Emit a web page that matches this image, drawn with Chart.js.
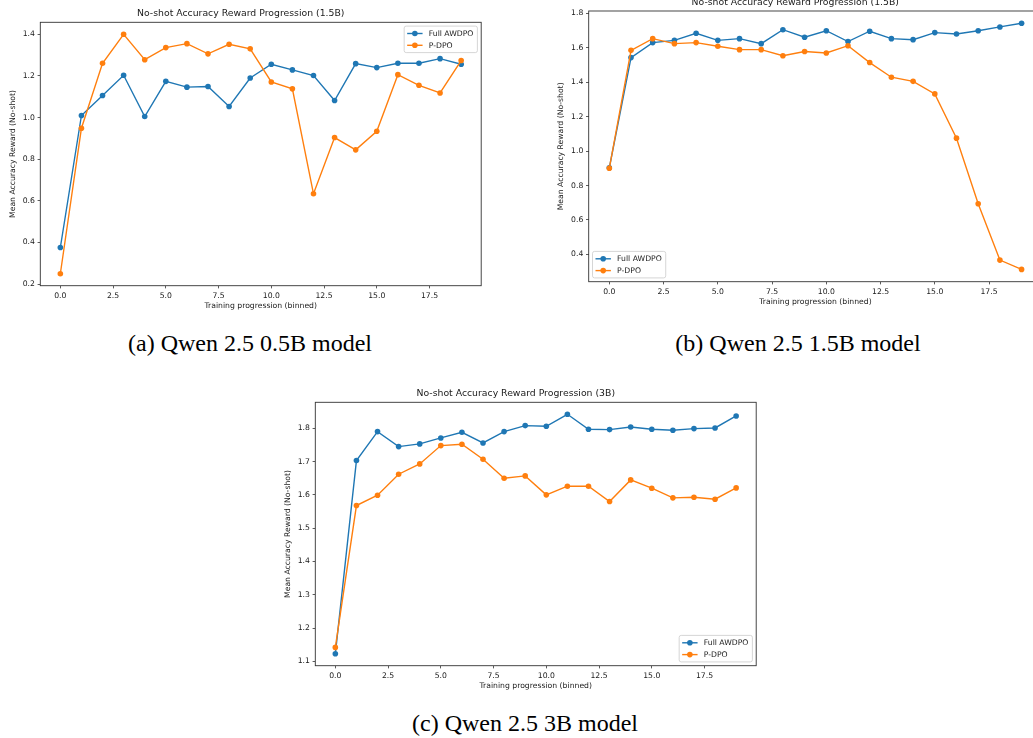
<!DOCTYPE html>
<html>
<head>
<meta charset="utf-8">
<title>No-shot Accuracy Reward Progression</title>
<script src="https://cdn.jsdelivr.net/npm/chart.js@4.4.1/dist/chart.umd.min.js"></script>
<style>
  html, body { margin: 0; padding: 0; background: #fff; }
  body { width: 1033px; height: 738px; position: relative; overflow: hidden; }
  canvas { position: absolute; }
  .caption {
    position: absolute;
    font-family: "Liberation Serif", "Times New Roman", serif;
    font-size: 24px;
    line-height: 24px;
    color: #000;
    white-space: nowrap;
    transform: translateX(-50%);
  }
</style>
</head>
<body>
<canvas id="chart05" width="484" height="312" style="left:0px;top:0px"></canvas>
<canvas id="chart15" width="497" height="319" style="left:548px;top:-11px"></canvas>
<canvas id="chart3" width="484" height="312" style="left:275px;top:380px"></canvas>
<div class="caption" style="left:250px;top:331px">(a) Qwen 2.5 0.5B model</div>
<div class="caption" style="left:798px;top:331px">(b) Qwen 2.5 1.5B model</div>
<div class="caption" style="left:525px;top:711px">(c) Qwen 2.5 3B model</div>

<script>
const bins = [0, 1, 2, 3, 4, 5, 6, 7, 8, 9, 10, 11, 12, 13, 14, 15, 16, 17, 18, 19];
const xTicks = [0, 2.5, 5, 7.5, 10, 12.5, 15, 17.5];

// (a) Qwen 2.5 0.5B
const awdpo05 = [0.376, 1.010, 1.106, 1.203, 1.005, 1.174, 1.146, 1.149, 1.053, 1.190,
                 1.256, 1.229, 1.202, 1.082, 1.259, 1.240, 1.261, 1.261, 1.283, 1.256];
const pdpo05 = [0.250, 0.949, 1.261, 1.400, 1.278, 1.336, 1.355, 1.306, 1.352, 1.330,
                1.171, 1.138, 0.634, 0.904, 0.845, 0.934, 1.206, 1.155, 1.118, 1.274];
const yTicks05 = [0.2, 0.4, 0.6, 0.8, 1.0, 1.2, 1.4];

// (b) Qwen 2.5 1.5B
const awdpo15 = [0.903, 1.543, 1.630, 1.643, 1.684, 1.643, 1.653, 1.624, 1.705, 1.661,
                 1.699, 1.636, 1.696, 1.653, 1.647, 1.688, 1.680, 1.699, 1.721, 1.742];
const pdpo15 = [0.900, 1.585, 1.653, 1.624, 1.630, 1.609, 1.589, 1.589, 1.554, 1.578,
                1.570, 1.612, 1.514, 1.429, 1.405, 1.332, 1.075, 0.694, 0.367, 0.313];
const yTicks15 = [0.4, 0.6, 0.8, 1.0, 1.2, 1.4, 1.6, 1.8];

// (c) Qwen 2.5 3B
const awdpo3 = [1.123, 1.703, 1.790, 1.745, 1.753, 1.771, 1.788, 1.756, 1.790, 1.808,
                1.806, 1.842, 1.797, 1.796, 1.804, 1.797, 1.794, 1.799, 1.801, 1.837];
const pdpo3 = [1.142, 1.568, 1.599, 1.662, 1.693, 1.748, 1.752, 1.707, 1.650, 1.657,
               1.600, 1.626, 1.626, 1.580, 1.645, 1.620, 1.591, 1.593, 1.587, 1.621];
const yTicks3 = [1.1, 1.2, 1.3, 1.4, 1.5, 1.6, 1.7, 1.8];

const BLUE = '#1f77b4';
const ORANGE = '#ff7f0e';
const TEXT = '#1a1a1a';
const FONT = '"DejaVu Sans", Verdana, sans-serif';
const TICK_SIZE = 7.7;
const TITLE_SIZE = 9.3;
const MARKER_R = 2.8;
const LINE_W = 1.4;

// matplotlib-style box around the plot area
const framePlugin = {
  id: 'frame',
  afterDatasetsDraw(chart) {
    const { ctx, chartArea: a } = chart;
    ctx.save();
    ctx.strokeStyle = '#333';
    ctx.lineWidth = 0.9;
    ctx.strokeRect(a.left, a.top, a.right - a.left, a.bottom - a.top);
    ctx.restore();
  }
};

// legend drawn inside the axes, like matplotlib's
const boxLegendPlugin = {
  id: 'boxLegend',
  afterDraw(chart, args, opts) {
    const { ctx, chartArea: a } = chart;
    const sets = chart.data.datasets;
    ctx.save();
    ctx.font = `${TICK_SIZE}px ${FONT}`;
    const textW = Math.max(...sets.map(d => ctx.measureText(d.label).width));
    const pad = 3, handle = 15.4, gap = 6.2, inset = 3.8;
    const w = pad + handle + gap + textW + pad + 1;
    const h = 26.5;
    const x = opts.corner.includes('r') ? a.right - inset - w : a.left + inset;
    const y = opts.corner.includes('t') ? a.top + inset : a.bottom - inset - h;

    ctx.beginPath();
    ctx.roundRect(x, y, w, h, 2);
    ctx.fillStyle = 'rgba(255,255,255,0.8)';
    ctx.fill();
    ctx.strokeStyle = '#cccccc';
    ctx.lineWidth = 0.8;
    ctx.stroke();

    sets.forEach((d, i) => {
      const cy = y + 7.4 + i * 11.8;
      ctx.strokeStyle = d.borderColor;
      ctx.lineWidth = LINE_W;
      ctx.beginPath();
      ctx.moveTo(x + pad, cy);
      ctx.lineTo(x + pad + handle, cy);
      ctx.stroke();
      ctx.fillStyle = d.borderColor;
      ctx.beginPath();
      ctx.arc(x + pad + handle / 2, cy, MARKER_R, 0, Math.PI * 2);
      ctx.fill();
      ctx.fillStyle = TEXT;
      ctx.textBaseline = 'middle';
      ctx.textAlign = 'left';
      ctx.fillText(d.label, x + pad + handle + gap, cy + 0.5);
    });
    ctx.restore();
  }
};

const toPoints = (values) => bins.map((b, i) => ({ x: b, y: values[i] }));

function series(label, values, color, order) {
  return {
    label,
    data: toPoints(values),
    borderColor: color,
    backgroundColor: color,
    borderWidth: LINE_W,
    pointRadius: MARKER_R,
    pointBorderWidth: 0,
    pointHoverRadius: MARKER_R,
    tension: 0,
    order
  };
}

// geo: area edges relative to the canvas (left, top, bottom), padRight for the right edge
function makeChart(id, title, awdpo, pdpo, yMin, yMax, yTicks, geo, corner) {
  const canvas = document.getElementById(id);
  const ctx = canvas.getContext('2d');
  return new Chart(ctx, {
    type: 'line',
    data: {
      datasets: [
        series('Full AWDPO', awdpo, BLUE, 1),
        series('P-DPO', pdpo, ORANGE, 0)
      ]
    },
    options: {
      responsive: false,
      animation: false,
      events: [],
      layout: { padding: { left: 0, top: 0, bottom: 0, right: geo.padRight } },
      plugins: {
        legend: { display: false },
        tooltip: { enabled: false },
        title: {
          display: true,
          text: title,
          color: TEXT,
          font: { family: FONT, size: TITLE_SIZE, weight: 'normal' },
          padding: { top: geo.top - TITLE_SIZE * 1.2 - 2.7, bottom: 2.7 }
        },
        boxLegend: { corner }
      },
      scales: {
        x: {
          type: 'linear',
          min: -0.95,
          max: 19.95,
          afterFit(scale) { scale.height = canvas.height - geo.bottom; },
          afterBuildTicks(scale) { scale.ticks = xTicks.map(v => ({ value: v })); },
          grid: { drawOnChartArea: false, drawTicks: true, tickLength: 2.7, color: '#333', lineWidth: 0.8 },
          border: { display: false },
          ticks: {
            color: TEXT,
            padding: 2.7,
            maxRotation: 0,
            autoSkip: false,
            font: { family: FONT, size: TICK_SIZE },
            callback: (v) => Number(v).toFixed(1)
          },
          title: {
            display: true,
            text: 'Training progression (binned)',
            color: TEXT,
            font: { family: FONT, size: TICK_SIZE },
            padding: { top: 0, bottom: 1.7 }
          }
        },
        y: {
          type: 'linear',
          min: yMin,
          max: yMax,
          afterFit(scale) { scale.width = geo.left; },
          afterBuildTicks(scale) { scale.ticks = yTicks.map(v => ({ value: v })); },
          grid: { drawOnChartArea: false, drawTicks: true, tickLength: 2.7, color: '#333', lineWidth: 0.8 },
          border: { display: false },
          ticks: {
            color: TEXT,
            padding: 2.7,
            autoSkip: false,
            font: { family: FONT, size: TICK_SIZE },
            callback: (v) => Number(v).toFixed(1)
          },
          title: {
            display: true,
            text: 'Mean Accuracy Reward (No-shot)',
            color: TEXT,
            font: { family: FONT, size: TICK_SIZE },
            padding: { top: 8.7, bottom: 0 }
          }
        }
      }
    },
    plugins: [framePlugin, boxLegendPlugin]
  });
}

Chart.defaults.font.family = FONT;

makeChart('chart05', 'No-shot Accuracy Reward Progression (1.5B)', awdpo05, pdpo05,
  0.1925, 1.4575, yTicks05, { left: 40.3, top: 22.3, bottom: 285.7, padRight: 2.5 }, 'tr');

makeChart('chart15', 'No-shot Accuracy Reward Progression (1.5B)', awdpo15, pdpo15,
  0.2415, 1.8135, yTicks15, { left: 40.7, top: 22, bottom: 292.7, padRight: 2.4 }, 'bl');

makeChart('chart3', 'No-shot Accuracy Reward Progression (3B)', awdpo3, pdpo3,
  1.087, 1.878, yTicks3, { left: 40.3, top: 22.3, bottom: 285.7, padRight: 2.5 }, 'br');
</script>
</body>
</html>
